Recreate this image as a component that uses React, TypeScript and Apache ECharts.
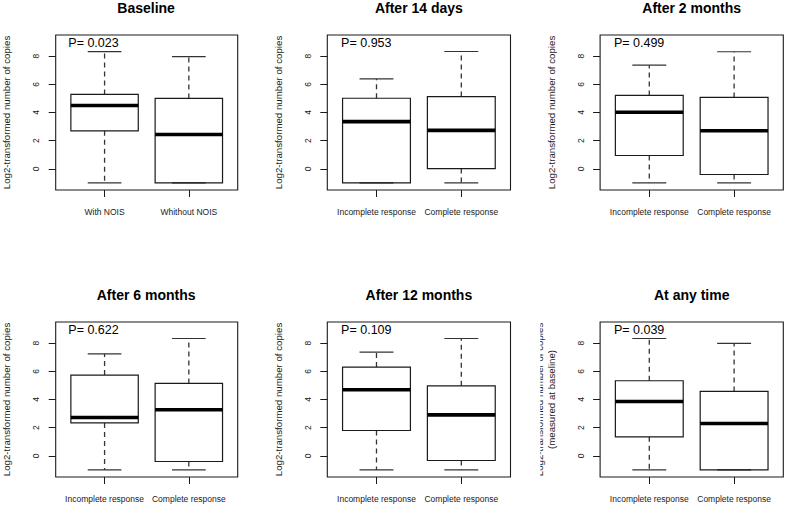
import React, { useEffect, useRef } from "react";
import * as echarts from "echarts";

const panelTitles = ["Baseline", "After 14 days", "After 2 months", "After 6 months", "After 12 months", "At any time"];
const pValues = ["0.023", "0.953", "0.499", "0.622", "0.109", "0.039"];
const baselineGroups = ["With NOIS", "Whithout NOIS"];
const responseGroups = ["Incomplete response", "Complete response"];
const panelGroups = [baselineGroups, responseGroups, responseGroups, responseGroups, responseGroups, responseGroups];
const yTicks = [0, 2, 4, 6, 8];
const xTicks = [1, 2];
const yTitle = "Log2-transformed number of copies";
const yTitleLast = "Log2-transformed number of copies\n(measured at baseline)";

// [lower whisker, Q1, median, Q3, upper whisker]
const baselineStats = [[-1, 2.7, 4.5, 5.28, 8.32], [-1, -1, 2.44, 5.0, 7.96]];
const day14Stats = [[-1, -1, 3.35, 5.01, 6.38], [-1, 0.02, 2.73, 5.13, 8.33]];
const month2Stats = [[-1, 0.95, 4.02, 5.21, 7.36], [-1, -0.4, 2.7, 5.07, 8.31]];
const month6Stats = [[-1, 2.34, 2.72, 5.73, 7.24], [-1, -0.4, 3.27, 5.14, 8.33]];
const month12Stats = [[-1, 1.8, 4.69, 6.3, 7.36], [-1, -0.33, 2.91, 4.97, 8.33]];
const anyTimeStats = [[-1, 1.35, 3.86, 5.33, 8.33], [-1, -1, 2.3, 4.57, 7.98]];
const panelStats = [baselineStats, day14Stats, month2Stats, month6Stats, month12Stats, anyTimeStats];

const FONT = "'Liberation Sans', Arial, Helvetica, sans-serif";
const INK = "#1a1a1a";
const COL_LEFT = [54.5, 327.3, 600.1];
const ROW_TOP = [35, 322];
const FRAME_W = 183.2;
const FRAME_H = 155;

function renderBox(params: any, api: any) {
  const x = api.value(0);
  const lo = api.value(1);
  const q1 = api.value(2);
  const med = api.value(3);
  const q3 = api.value(4);
  const hi = api.value(5);
  const half = api.size([0.8, 0])[0] / 2;
  const staple = half / 2;
  const cx = api.coord([x, med])[0];
  const yLo = api.coord([x, lo])[1];
  const yQ1 = api.coord([x, q1])[1];
  const yMed = api.coord([x, med])[1];
  const yQ3 = api.coord([x, q3])[1];
  const yHi = api.coord([x, hi])[1];
  const dashed = { stroke: "#333", lineWidth: 1.3, lineDash: [5, 4] };
  const solid = { stroke: "#333", lineWidth: 1.2 };
  return {
    type: "group",
    children: [
      { type: "line", shape: { x1: cx, y1: yQ3, x2: cx, y2: yHi }, style: dashed },
      { type: "line", shape: { x1: cx, y1: yQ1, x2: cx, y2: yLo }, style: dashed },
      { type: "line", shape: { x1: cx - staple, y1: yHi, x2: cx + staple, y2: yHi }, style: solid },
      { type: "line", shape: { x1: cx - staple, y1: yLo, x2: cx + staple, y2: yLo }, style: solid },
      {
        type: "rect",
        shape: { x: cx - half, y: yQ3, width: 2 * half, height: yQ1 - yQ3 },
        style: { fill: "none", stroke: INK, lineWidth: 1.2 },
      },
      { type: "line", shape: { x1: cx - half, y1: yMed, x2: cx + half, y2: yMed }, style: { stroke: "#000", lineWidth: 3.6 } },
    ],
  };
}

export default function App() {
  const ref = useRef<HTMLDivElement>(null);
  useEffect(() => {
    if (!ref.current) return;
    const chart = echarts.init(ref.current, undefined, { renderer: "svg" });
    const grids: any[] = [];
    const xAxes: any[] = [];
    const yAxes: any[] = [];
    const series: any[] = [];
    const graphics: any[] = [];
    panelTitles.forEach((title, i) => {
      const col = i % 3;
      const row = Math.floor(i / 3);
      const left = COL_LEFT[col];
      const top = ROW_TOP[row];
      grids.push({
        left,
        top,
        width: FRAME_W,
        height: FRAME_H,
        show: true,
        borderColor: INK,
        borderWidth: 1.1,
        backgroundColor: "transparent",
      });
      const groups = panelGroups[i];
      xAxes.push({
        type: "value",
        gridIndex: i,
        min: 0.42,
        max: 2.58,
        splitLine: { show: false },
        axisLine: { show: false, onZero: false },
        axisTick: { show: true, length: 7, customValues: xTicks, lineStyle: { color: INK } },
        axisLabel: {
          customValues: xTicks,
          formatter: (v: number) => groups[Math.round(v) - 1] ?? "",
          margin: 17,
          fontSize: 8.5,
          color: INK,
          fontFamily: FONT,
        },
      });
      yAxes.push({
        type: "value",
        gridIndex: i,
        min: -1.5,
        max: 9.5,
        splitLine: { show: false },
        axisLine: { show: false, onZero: false },
        axisTick: { show: true, length: 7, customValues: yTicks, lineStyle: { color: INK } },
        axisLabel: {
          customValues: yTicks,
          rotate: 90,
          margin: 15,
          fontSize: 8.5,
          color: INK,
          fontFamily: FONT,
        },
        name: i === 5 ? yTitleLast : yTitle,
        nameLocation: "middle",
        nameRotate: 90,
        nameGap: 43,
        nameTextStyle: { fontSize: 9.7, lineHeight: 11.7, color: INK, fontFamily: FONT },
      });
      series.push({
        type: "custom",
        xAxisIndex: i,
        yAxisIndex: i,
        renderItem: renderBox,
        encode: { x: 0, y: [1, 2, 3, 4, 5] },
        data: panelStats[i].map((s, j) => [j + 1, ...s]),
        z: 5,
      });
      graphics.push({
        type: "text",
        x: left + FRAME_W / 2,
        y: top - 27.5,
        style: { text: title, fill: "#000", font: `bold 14px ${FONT}`, align: "center", verticalAlign: "middle" },
      });
      graphics.push({
        type: "text",
        x: left + 13.8,
        y: top + 8.3,
        style: { text: `P= ${pValues[i]}`, fill: "#000", font: `12.5px ${FONT}`, align: "left", verticalAlign: "middle" },
        z: 10,
      });
    });
    // the first line of the last y-axis title is clipped at the panel edge
    graphics.push({
      type: "rect",
      shape: { x: 524, y: 300, width: 16.3, height: 190 },
      style: { fill: "#fff" },
      z: 100,
    });
    chart.setOption({
      animation: false,
      textStyle: { fontFamily: FONT },
      grid: grids,
      xAxis: xAxes,
      yAxis: yAxes,
      series,
      graphic: graphics,
    });
    return () => chart.dispose();
  }, []);
  return <div ref={ref} style={{ position: "fixed", left: 0, top: 0, width: 786, height: 506, background: "#fff" }} />;
}
